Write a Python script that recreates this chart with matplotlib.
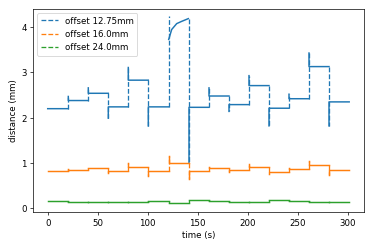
import numpy as np
import matplotlib.pyplot as plt

# segment boundaries (s)
edges = [0.0, 20.6, 40.6, 60.6, 80.6, 100.6, 121.0, 141.3, 161.3,
         181.3, 201.3, 221.3, 241.3, 261.3, 281.3, 301.5]

labels = ["offset 12.75mm", "offset 16.0mm", "offset 24.0mm"]

# plateau level of each segment (mm)
blue_levels = [2.20, 2.38, 2.54, 2.24, 2.83, 2.24, np.nan, 2.23, 2.48,
               2.29, 2.71, 2.21, 2.42, 3.13, 2.35]
# overshoot right after each step (mm), steps at edges[1:-1]
blue_spikes = [2.47, 2.66, 1.99, 3.11, 1.82, 4.24, 1.01, 2.66, 2.14,
               2.93, 1.82, 2.52, 3.43, 1.82]
# segment 6 of the blue series creeps up instead of staying flat
blue_curve_t = [121.0, 124.0, 129.0, 134.0, 140.6]
blue_curve_v = [3.73, 3.95, 4.08, 4.13, 4.19]

orange_levels = [0.82, 0.85, 0.886, 0.83, 0.92, 0.83, 0.99, 0.83, 0.886,
                 0.84, 0.92, 0.81, 0.865, 0.95, 0.85]
orange_spikes = [0.87, 0.90, 0.77, 1.00, 0.72, 1.15, 0.64, 0.92, 0.81,
                 0.98, 0.76, 0.88, 1.04, 0.74]

green_levels = [0.165, 0.145, 0.14, 0.145, 0.14, 0.155, 0.12, 0.175, 0.15,
                0.145, 0.14, 0.175, 0.15, 0.148, 0.148]
green_spikes = green_levels[1:]


def segment(levels, i, curve):
    if curve is not None and np.isnan(levels[i]):
        return list(curve[0]), list(curve[1]), True
    return [edges[i], edges[i + 1]], [levels[i], levels[i]], False


dpi = 374 / 6
fig, ax = plt.subplots(figsize=(6, 4), dpi=dpi)
fig.subplots_adjust(left=33 / 374, right=364 / 374,
                    bottom=1 - 212.3 / 249, top=1 - 9 / 249)

series = [
    (blue_levels, blue_spikes, (blue_curve_t, blue_curve_v), "C0"),
    (orange_levels, orange_spikes, None, "C1"),
    (green_levels, green_spikes, None, "C2"),
]

for label, (levels, spikes, curve, color) in zip(labels, series):
    sx, sy = [], []  # solid plateaus
    dx, dy = [], []  # dashed jumps
    prev_end = None
    for i in range(len(levels)):
        tx, ty, is_curve = segment(levels, i, curve)
        if i > 0:
            t = edges[i]
            dx += [t, t, np.nan]
            dy += [prev_end, spikes[i - 1], np.nan]
            if not is_curve:
                sx += [t]
                sy += [spikes[i - 1]]
        sx += tx + [np.nan]
        sy += ty + [np.nan]
        prev_end = ty[-1]
    ax.plot(sx, sy, color=color, lw=1.7)
    ax.plot(dx, dy, "--", color=color, lw=1.5, label=label)

ax.set_xlim(-14.7, 316.3)
ax.set_ylim(-0.089, 4.41)
ax.set_xticks([0, 50, 100, 150, 200, 250, 300])
ax.set_yticks([0, 1, 2, 3, 4])
ax.set_xlabel("time (s)")
ax.set_ylabel("distance (mm)")
ax.legend(loc="upper left")

fig.savefig("out.png", dpi=dpi)
